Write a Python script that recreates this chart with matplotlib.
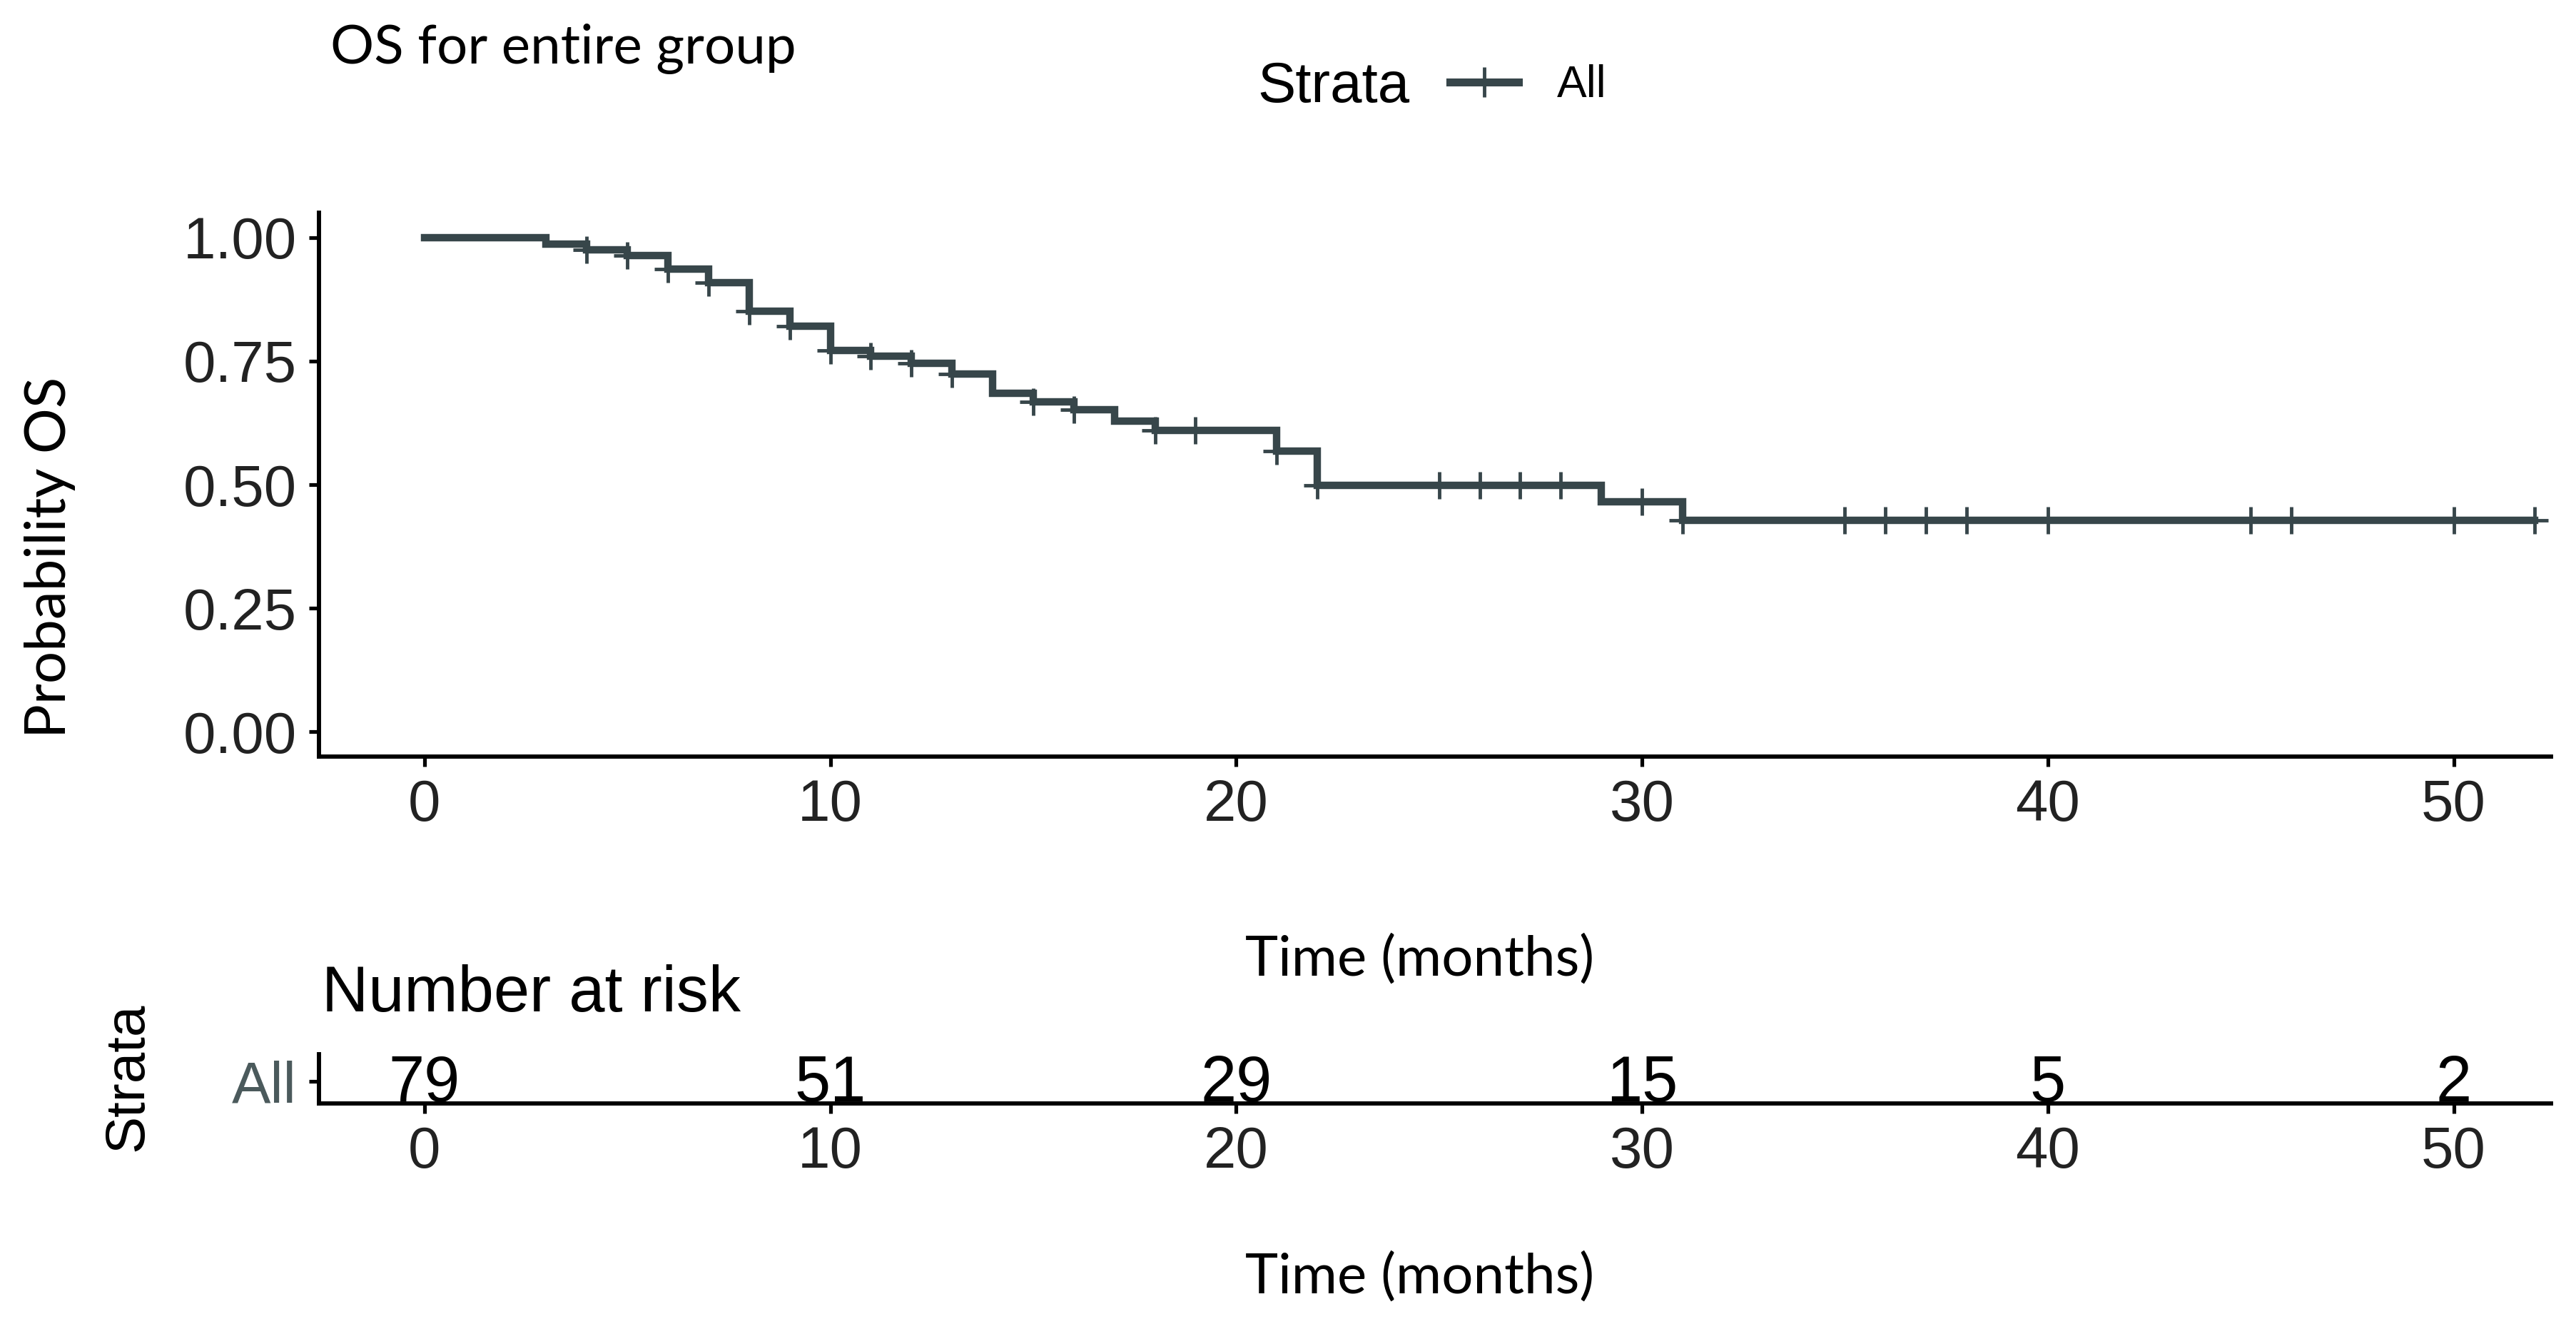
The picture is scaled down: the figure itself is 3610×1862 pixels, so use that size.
import numpy as np
import matplotlib
matplotlib.use('Agg')
import matplotlib.pyplot as plt
from matplotlib.lines import Line2D

# Kaplan-Meier steps (months, survival)
step_times = [0, 3, 4, 5, 6, 7, 8, 9, 10, 11, 12, 13, 14, 15, 16, 17, 18, 21, 22, 29, 31]
surv = [1.0, 0.987, 0.975, 0.963, 0.936, 0.909, 0.851, 0.820, 0.772, 0.760, 0.745,
        0.724, 0.685, 0.668, 0.651, 0.629, 0.610, 0.568, 0.499, 0.466, 0.428]
end_time = 52
censor_times = [4, 5, 6, 7, 8, 9, 10, 11, 12, 13, 15, 16, 18, 19, 21, 22, 25, 26, 27, 28,
                30, 31, 35, 36, 37, 38, 40, 45, 46, 50, 52]
risk_times = [0, 10, 20, 30, 40, 50]
n_risk = [79, 51, 29, 15, 5, 2]
yticks = [0.0, 0.25, 0.5, 0.75, 1.0]

line_col = '#37464a'
arial = 'Liberation Sans'
calibri = 'Lato'

W, H = 3610, 1862
fig = plt.figure(figsize=(W / 250, H / 250), dpi=250)


def fx(px):
    return px / W


def fy(py):
    return 1 - py / H


xlim = (-2.6, 52.4)

# survival panel
ax = fig.add_axes([fx(447), fy(1060), fx(3575) - fx(447), fy(298) - fy(1060)])
t = np.array(step_times + [end_time])
s = np.array(surv + [surv[-1]])
ax.step(t, s, where='post', color=line_col, lw=3.0, solid_joinstyle='miter')
ct = np.array(censor_times)
idx = np.searchsorted(step_times, ct, side='right') - 1
ax.plot(ct, np.array(surv)[idx], ls='none', marker='+', ms=11, mew=1.4, color=line_col)
ax.set_xlim(*xlim)
ax.set_ylim(-0.05, 1.05)
ax.set_xticks(risk_times)
ax.set_yticks(yticks)
ax.set_yticklabels(['%.2f' % v for v in yticks])
for sp in ['top', 'right']:
    ax.spines[sp].set_visible(False)
for sp in ['left', 'bottom']:
    ax.spines[sp].set_linewidth(1.7)
ax.tick_params(width=1.5, length=4, labelsize=23.5, pad=5)
for lab in ax.get_xticklabels() + ax.get_yticklabels():
    lab.set_fontfamily(arial)
    lab.set_color('#222222')

fig.text(fx(70), fy(781), 'Probability OS', rotation=90, ha='center', va='center',
         fontsize=23, family=calibri)
fig.text(fx(1990), fy(1345), 'Time (months)', ha='center', va='center',
         fontsize=22.5, family=calibri)
fig.text(fx(463), fy(68), 'OS for entire group', ha='left', va='center',
         fontsize=22, family=calibri)

# legend
fig.text(fx(1975), fy(122), 'Strata', ha='right', va='center', fontsize=23, family=arial)
h = Line2D([], [], color=line_col, lw=3.2, marker='+', ms=12, mew=1.4)
fig.legend([h], ['All'], loc='center left', bbox_to_anchor=(fx(2007), fy(120)),
           frameon=False, borderaxespad=0, handlelength=1.54, handletextpad=0.86,
           prop={'family': arial, 'size': 18})

# risk table
fig.text(fx(451), fy(1393), 'Number at risk', ha='left', va='center',
         fontsize=26, family=arial)
tab = fig.add_axes([fx(447), fy(1546), fx(3575) - fx(447), fy(1477) - fy(1546)])
tab.set_xlim(*xlim)
tab.set_ylim(0, 1)
for x, n in zip(risk_times, n_risk):
    tab.text(x, 0.04, str(n), ha='center', va='baseline', fontsize=26, family=arial)
tab.set_xticks(risk_times)
tab.set_yticks([0.45])
tab.set_yticklabels(['All'], family=arial, fontsize=22, color='#4b5a5c')
for sp in ['top', 'right']:
    tab.spines[sp].set_visible(False)
for sp in ['left', 'bottom']:
    tab.spines[sp].set_linewidth(1.7)
tab.tick_params(width=1.5, length=4, labelsize=23.5, pad=5)
for lab in tab.get_xticklabels():
    lab.set_fontfamily(arial)
    lab.set_color('#222222')

fig.text(fx(179), fy(1509), 'Strata', rotation=90, ha='center', va='center',
         fontsize=22.5, family=arial)
fig.text(fx(1990), fy(1790), 'Time (months)', ha='center', va='center',
         fontsize=22.5, family=calibri)

fig.savefig('out.png', dpi=250, facecolor='white')
